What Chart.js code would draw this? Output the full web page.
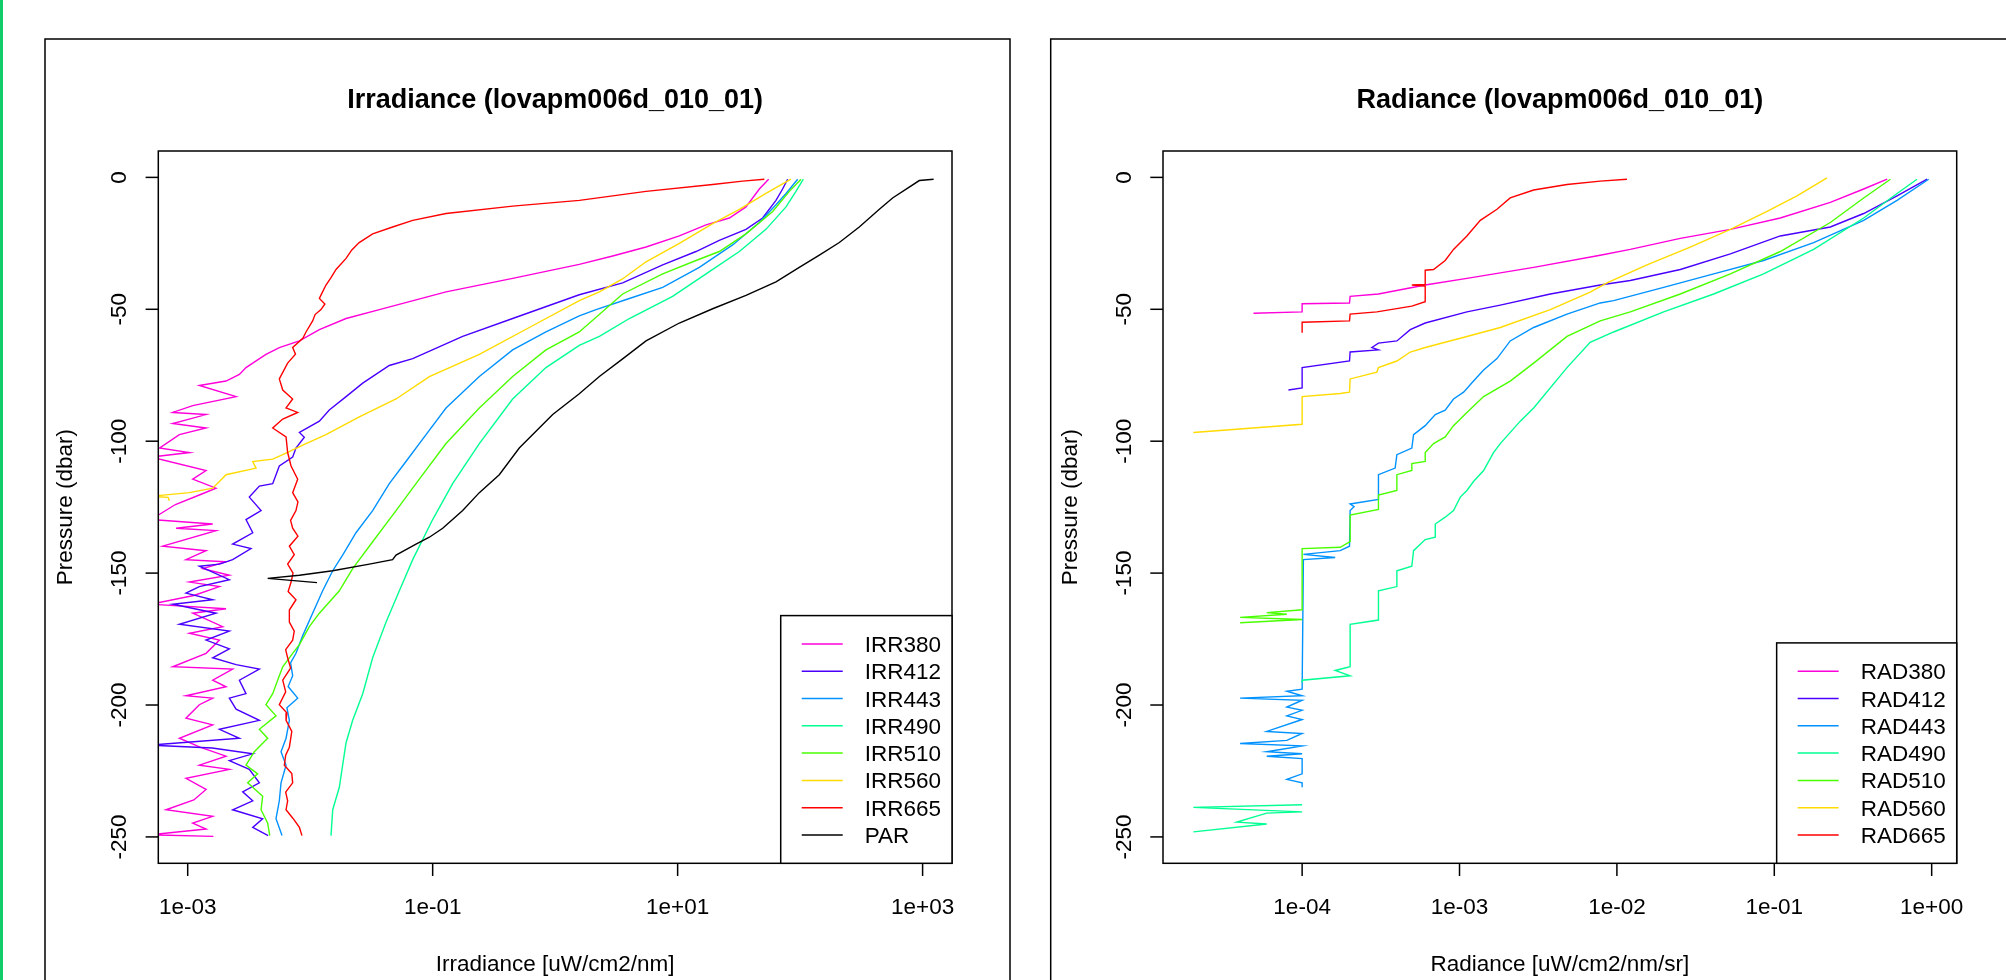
<!DOCTYPE html>
<html>
<head>
<meta charset="utf-8">
<script src="https://cdn.jsdelivr.net/npm/chart.js@4.4.1/dist/chart.umd.min.js"></script>
<style>
  html, body { margin: 0; padding: 0; background: #fff; width: 2006px; height: 980px; overflow: hidden; position: relative; }
  #bar { position: absolute; left: 0; top: 0; width: 3px; height: 980px; background: #12cc6a; }
  canvas { position: absolute; top: 0; }
  #irr { left: 0; }
  #rad { left: 1030px; }
</style>
</head>
<body>
<div id="bar"></div>
<canvas id="irr" width="1030" height="980"></canvas>
<canvas id="rad" width="976" height="980"></canvas>
<script>
// axis ticks
const irrTicks = [1e-3, 1e-1, 1e1, 1e3];
const irrTickLabels = ['1e-03', '1e-01', '1e+01', '1e+03'];
const radTicks = [1e-4, 1e-3, 1e-2, 1e-1, 1];
const radTickLabels = ['1e-04', '1e-03', '1e-02', '1e-01', '1e+00'];
const pressureTicks = [0, -50, -100, -150, -200, -250];

const irrLabels = ['IRR380', 'IRR412', 'IRR443', 'IRR490', 'IRR510', 'IRR560', 'IRR665', 'PAR'];
const radLabels = ['RAD380', 'RAD412', 'RAD443', 'RAD490', 'RAD510', 'RAD560', 'RAD665'];
const chanColors = ['#FF00DB', '#4900FF', '#0092FF', '#00FF92', '#49FF00', '#FFDB00', '#FF0000', '#000000'];

// profiles: [pressure (dbar), log10 of value]
const irr380 = [[-0.7,1.743],[-4.4,1.667],[-11.2,1.558],[-15.4,1.422],[-18,1.232],[-22.2,1.014],[-26.4,0.742],[-29.8,0.47],[-33,0.197],[-38.3,-0.347],[-43.4,-0.891],[-50.1,-1.435],[-53.5,-1.707],[-57.7,-1.925],[-62,-2.088],[-64.5,-2.252],[-67.1,-2.361],[-70.4,-2.469],[-72.1,-2.524],[-74.7,-2.578],[-77.2,-2.687],[-78.9,-2.905],[-83.1,-2.605],[-86.5,-2.959],[-89.1,-3.122],[-89.9,-2.85],[-93.3,-3.122],[-95,-2.85],[-97.5,-3.068],[-102.6,-3.231],[-104.3,-2.986],[-106,-3.3],[-111.1,-2.85],[-114.4,-2.959],[-117.8,-2.769],[-120.4,-2.905],[-124,-3.1],[-129.7,-3.3],[-131.4,-2.796],[-133,-3.095],[-133.9,-2.769],[-139.8,-3.204],[-141.5,-2.85],[-144.9,-3.014],[-145.7,-2.687],[-148.3,-2.877],[-150.8,-2.66],[-153.4,-2.986],[-155.1,-2.741],[-158.5,-2.95],[-161.8,-3.3],[-163.5,-2.687],[-165.2,-2.959],[-170.3,-2.714],[-172.8,-2.986],[-175.4,-2.741],[-180.4,-2.85],[-185.5,-3.122],[-186.4,-2.633],[-190.6,-2.796],[-193.1,-2.687],[-196.5,-3.014],[-197.4,-2.796],[-199.9,-2.905],[-205,-3.014],[-207.5,-2.796],[-212.6,-3.068],[-216,-2.9],[-219.4,-2.687],[-222.8,-2.905],[-224.4,-2.66],[-227.8,-3.014],[-232,-2.85],[-236,-2.95],[-239.7,-3.177],[-242.2,-2.796],[-244.8,-2.959],[-247,-2.85],[-249.2,-3.3],[-249.8,-2.79]];
const irr412 = [[-0.7,1.898],[-4.4,1.857],[-8.7,1.803],[-15.4,1.694],[-19.7,1.558],[-23.9,1.34],[-28.1,1.15],[-33.2,0.878],[-40,0.551],[-44.5,0.197],[-53.5,-0.347],[-60.3,-0.755],[-68.7,-1.163],[-71.3,-1.354],[-78,-1.571],[-83.1,-1.707],[-88.2,-1.844],[-92.4,-1.925],[-96.7,-2.088],[-98.5,-2.048],[-102.6,-2.116],[-106,-2.143],[-109.4,-2.252],[-116.1,-2.306],[-117,-2.415],[-121.2,-2.497],[-126.3,-2.401],[-129.7,-2.524],[-134.7,-2.469],[-139,-2.633],[-140.7,-2.483],[-144.9,-2.633],[-146.6,-2.741],[-147.4,-2.905],[-152.5,-2.66],[-155.1,-2.905],[-157.6,-3.014],[-160.1,-2.796],[-161.8,-3.122],[-165.2,-2.769],[-169.4,-3.068],[-172,-2.66],[-175.4,-2.85],[-178.7,-2.66],[-182.1,-2.796],[-184.7,-2.605],[-186.4,-2.415],[-190.6,-2.578],[-195.7,-2.524],[-197.4,-2.66],[-201.6,-2.605],[-205.8,-2.415],[-209.2,-2.741],[-212.6,-2.578],[-215.2,-3.3],[-216.3,-2.8],[-218.5,-2.469],[-221.1,-2.66],[-224.4,-2.497],[-229.5,-2.415],[-232.9,-2.551],[-236.3,-2.469],[-239.7,-2.633],[-243.1,-2.388],[-246.4,-2.469],[-249.5,-2.343]];
const irr443 = [[-0.7,1.98],[-6.1,1.885],[-10.4,1.803],[-17.1,1.667],[-25.6,1.449],[-34.1,1.177],[-41.7,0.878],[-45.9,0.606],[-50.1,0.334],[-52.5,0.197],[-58.6,-0.075],[-65.4,-0.347],[-75.5,-0.619],[-87.4,-0.891],[-97.5,-1.054],[-107.7,-1.218],[-116.1,-1.354],[-126.3,-1.49],[-134.7,-1.626],[-143.2,-1.735],[-149.1,-1.816],[-156.7,-1.898],[-165.2,-1.98],[-173.7,-2.061],[-180.4,-2.116],[-184,-2.16],[-188.9,-2.143],[-193,-2.18],[-197.4,-2.102],[-201,-2.19],[-205.8,-2.17],[-212.6,-2.197],[-217.7,-2.238],[-222.8,-2.197],[-229.5,-2.238],[-236.3,-2.252],[-243.1,-2.279],[-249.5,-2.23]];
const irr490 = [[-0.7,2.026],[-5.3,1.966],[-11.2,1.885],[-19.7,1.721],[-28.1,1.504],[-36.6,1.232],[-45.1,0.959],[-53.5,0.606],[-60.3,0.361],[-63.7,0.197],[-72.1,-0.075],[-84,-0.347],[-100.9,-0.619],[-116.1,-0.837],[-129.7,-1.0],[-144.9,-1.163],[-156.7,-1.272],[-168.6,-1.381],[-182.1,-1.49],[-195.7,-1.571],[-205.8,-1.653],[-214.3,-1.707],[-222.8,-1.735],[-231.2,-1.762],[-239.7,-1.816],[-249.5,-1.83]];
const irr510 = [[-0.7,2.007],[-5.3,1.912],[-12.9,1.776],[-21.4,1.558],[-28.1,1.34],[-31.5,1.15],[-36.6,0.878],[-44.2,0.551],[-58.6,0.197],[-65.4,-0.075],[-75.5,-0.347],[-87.4,-0.619],[-100.9,-0.891],[-114.4,-1.109],[-126.3,-1.299],[-138.1,-1.49],[-148.3,-1.653],[-156.7,-1.762],[-165.2,-1.925],[-170.3,-2.007],[-177.1,-2.088],[-180.4,-2.143],[-185.5,-2.224],[-188.9,-2.252],[-195.7,-2.306],[-199.9,-2.361],[-204.1,-2.279],[-209.2,-2.415],[-212.6,-2.347],[-217.7,-2.456],[-222.8,-2.524],[-226.1,-2.429],[-229.5,-2.51],[-234.6,-2.388],[-239.7,-2.401],[-244.8,-2.347],[-249.5,-2.33]];
const irr560 = [[-0.7,1.925],[-6.1,1.721],[-12.1,1.504],[-17.5,1.286],[-25,1.014],[-32,0.742],[-38.5,0.55],[-43.4,0.361],[-46.7,0.197],[-56.9,-0.211],[-67.1,-0.619],[-75.5,-1.027],[-84,-1.299],[-90.8,-1.599],[-97.5,-1.871],[-100.9,-2.034],[-105.1,-2.224],[-106.8,-2.306],[-107.7,-2.469],[-110.2,-2.442],[-112.7,-2.687],[-115.3,-2.741],[-117.8,-2.796],[-119.5,-2.986],[-120.9,-3.3],[-121.3,-3.16],[-122.6,-3.15]];
const irr665 = [[-0.7,1.708],[-1.4,1.531],[-2.7,1.286],[-5.3,0.742],[-8.7,0.198],[-10.9,-0.347],[-13.7,-0.891],[-16.3,-1.163],[-18.8,-1.327],[-21.4,-1.49],[-24.7,-1.6],[-27.5,-1.66],[-30.7,-1.707],[-34.9,-1.789],[-38,-1.83],[-40.8,-1.871],[-43.5,-1.9],[-45.9,-1.925],[-48,-1.88],[-50.1,-1.912],[-52,-1.96],[-54.4,-1.98],[-58.6,-2.034],[-61,-2.06],[-64.5,-2.143],[-67,-2.12],[-70.4,-2.184],[-76.4,-2.252],[-80.6,-2.224],[-84,-2.143],[-87.4,-2.197],[-89.1,-2.102],[-91.6,-2.224],[-95,-2.306],[-98.4,-2.197],[-104.3,-2.184],[-109.4,-2.156],[-114.4,-2.102],[-119.5,-2.143],[-123,-2.1],[-126.3,-2.116],[-130,-2.16],[-133,-2.143],[-136,-2.1],[-139.8,-2.17],[-143,-2.13],[-146.6,-2.184],[-150,-2.14],[-153.4,-2.156],[-157,-2.18],[-160.1,-2.116],[-164,-2.17],[-168.6,-2.17],[-172,-2.13],[-175.4,-2.143],[-179,-2.2],[-182.1,-2.184],[-186,-2.16],[-190.6,-2.224],[-195,-2.2],[-199.9,-2.252],[-203,-2.19],[-205.8,-2.197],[-210,-2.15],[-216,-2.17],[-219,-2.2],[-222.8,-2.211],[-226,-2.15],[-229.5,-2.143],[-233,-2.2],[-236.3,-2.184],[-239.7,-2.197],[-243,-2.14],[-246.4,-2.088],[-249.5,-2.067]];
const par = [[-0.7,3.09],[-1.2,2.973],[-7.8,2.755],[-12.1,2.647],[-18.8,2.483],[-24.7,2.32],[-29.5,2.157],[-34.1,1.993],[-39.6,1.803],[-44.7,1.558],[-49.8,1.286],[-55.2,1.014],[-62,0.742],[-68.8,0.551],[-75.5,0.361],[-82,0.197],[-89.9,-0.02],[-102.6,-0.293],[-112.7,-0.456],[-119.5,-0.619],[-126.3,-0.755],[-133,-0.918],[-136.4,-1.027],[-139,-1.136],[-143.2,-1.299],[-144.9,-1.327],[-146.6,-1.517],[-149.1,-1.816],[-150.8,-2.088],[-152,-2.347],[-153.6,-1.944]];

const rad380 = [[-0.7,-0.283],[-4.4,-0.432],[-9.5,-0.644],[-15.4,-0.962],[-19.7,-1.279],[-23.1,-1.597],[-27.3,-1.915],[-29.5,-2.106],[-34.1,-2.529],[-38.3,-2.953],[-40.8,-3.218],[-44.2,-3.515],[-45.1,-3.695],[-47.6,-3.699],[-47.9,-4.0],[-51,-4.0],[-51.5,-4.309]];
const rad412 = [[-0.7,-0.029],[-7,-0.22],[-13.7,-0.432],[-18.8,-0.644],[-22.2,-0.962],[-29,-1.279],[-34.9,-1.597],[-39.1,-1.915],[-40.8,-2.106],[-44.2,-2.423],[-48.4,-2.741],[-51,-2.953],[-55.2,-3.218],[-57.7,-3.313],[-62,-3.398],[-62.8,-3.515],[-64.5,-3.557],[-65.4,-3.515],[-66.2,-3.695],[-69.6,-3.699],[-72.1,-4.0],[-79.8,-4.0],[-80.6,-4.087]];
const rad443 = [[-0.7,-0.019],[-8.7,-0.22],[-16.3,-0.432],[-24.7,-0.75],[-31.5,-1.068],[-36.6,-1.385],[-41.7,-1.703],[-46.7,-2.021],[-47.6,-2.106],[-51.8,-2.317],[-56.9,-2.529],[-62,-2.678],[-68.7,-2.762],[-73,-2.847],[-77.2,-2.911],[-81.4,-2.974],[-84,-3.038],[-88.2,-3.091],[-89.9,-3.154],[-94.1,-3.218],[-97.5,-3.292],[-102.6,-3.303],[-105.1,-3.398],[-110.2,-3.409],[-112.7,-3.515],[-122.1,-3.515],[-123.8,-3.695],[-124.8,-3.67],[-126.3,-3.695],[-139.8,-3.699],[-141.5,-3.758],[-142.9,-3.992],[-144.1,-3.79],[-144.9,-3.992],[-194,-4.0],[-194.8,-4.097],[-196.5,-4.0],[-197.4,-4.394],[-198.2,-4.0],[-200.8,-4.097],[-202,-4.0],[-204.1,-4.097],[-205.5,-4.0],[-210,-4.225],[-210.8,-4.0],[-213.4,-4.097],[-214.6,-4.394],[-215.5,-4.0],[-217.7,-4.225],[-218.5,-4.0],[-219.4,-4.225],[-220.3,-4.0],[-226.1,-4.0],[-228.2,-4.097],[-229.5,-4.0],[-231.2,-4.0]];
const rad490 = [[-0.7,-0.093],[-6.1,-0.22],[-15.4,-0.432],[-27.3,-0.75],[-36.6,-1.068],[-44.2,-1.385],[-51,-1.703],[-58.6,-2.021],[-62.5,-2.17],[-72.1,-2.317],[-87.4,-2.529],[-92.4,-2.614],[-100.9,-2.741],[-104.3,-2.784],[-111.1,-2.847],[-115.3,-2.911],[-118.7,-2.953],[-121.2,-2.995],[-126.3,-3.038],[-128.8,-3.091],[-131.4,-3.154],[-136.4,-3.154],[-137.3,-3.218],[-141.5,-3.292],[-147.4,-3.303],[-149.1,-3.398],[-155.1,-3.398],[-156.7,-3.515],[-167.8,-3.515],[-169.4,-3.695],[-185.5,-3.695],[-186.9,-3.79],[-188.9,-3.695],[-190.6,-4.0],[-191.5,-4.0],[-200,null],[-237.8,-4.0],[-238.8,-4.691],[-240.5,-4.0],[-241,-4.225],[-244.4,-4.415],[-245.1,-4.225],[-248.1,-4.691]];
const rad510 = [[-0.7,-0.262],[-7.8,-0.432],[-17.1,-0.644],[-28.1,-0.962],[-36.6,-1.279],[-44.2,-1.597],[-51,-1.915],[-54.4,-2.106],[-60.3,-2.317],[-70.4,-2.529],[-77.2,-2.678],[-83.1,-2.847],[-89.1,-2.953],[-94.1,-3.038],[-98.4,-3.091],[-100.9,-3.165],[-104.3,-3.218],[-107.7,-3.218],[-108.5,-3.303],[-111.1,-3.303],[-112.7,-3.398],[-118.7,-3.398],[-120.4,-3.515],[-125.9,-3.515],[-128,-3.695],[-138.1,-3.695],[-140.2,-3.758],[-140.7,-4.0],[-163.9,-4.0],[-165,-4.225],[-165.6,-4.097],[-166.8,-4.394],[-167.6,-4.0],[-168.8,-4.394]];
const rad560 = [[-0.2,-0.665],[-7,-0.856],[-12.9,-1.046],[-19.7,-1.279],[-26.4,-1.534],[-33.2,-1.809],[-40,-2.063],[-43.5,-2.17],[-50.1,-2.423],[-56.9,-2.741],[-60.3,-2.953],[-64.5,-3.218],[-66.2,-3.313],[-69.6,-3.398],[-72.1,-3.515],[-73.8,-3.525],[-76.4,-3.695],[-81.4,-3.699],[-81.9,-3.758],[-83.1,-4.0],[-93.6,-4.0],[-96.7,-4.691]];
const rad665 = [[-0.7,-1.936],[-1.4,-2.106],[-2.7,-2.317],[-4.8,-2.529],[-7.8,-2.678],[-12.1,-2.762],[-16.3,-2.868],[-22.2,-2.953],[-27.3,-3.038],[-31.5,-3.091],[-34.9,-3.165],[-35.2,-3.218],[-40.6,-3.218],[-40.8,-3.303],[-41.2,-3.218],[-47.1,-3.218],[-48.8,-3.303],[-51,-3.525],[-51.8,-3.695],[-54.4,-3.699],[-54.9,-4.0],[-58.9,-4.0]];

function toPoints(rows) {
  return rows.map(([p, v]) => v === null ? { x: NaN, y: null } : { x: Math.pow(10, v), y: p });
}

const rStyle = {
  id: 'rStyle',
  afterDraw(chart, args, o) {
    const ctx = chart.ctx, a = chart.chartArea;
    const xs = chart.scales.x, ys = chart.scales.y;
    const font = '22.5px "Liberation Sans", Arial, sans-serif';
    const cx = (a.left + a.right) / 2, cy = (a.top + a.bottom) / 2;
    ctx.save();
    ctx.strokeStyle = '#000';
    ctx.fillStyle = '#000';
    ctx.lineWidth = 1.5;
    ctx.strokeRect(o.frame[0], o.frame[1], o.frame[2], o.frame[3]);
    ctx.strokeRect(a.left, a.top, a.right - a.left, a.bottom - a.top);

    ctx.font = font;
    ctx.textAlign = 'center';
    ctx.textBaseline = 'alphabetic';
    o.xTicks.forEach((v, i) => {
      const px = xs.getPixelForValue(v);
      ctx.beginPath(); ctx.moveTo(px, a.bottom); ctx.lineTo(px, a.bottom + 12.7); ctx.stroke();
      ctx.fillText(o.xTickLabels[i], px, a.bottom + 51);
    });
    o.yTicks.forEach(v => {
      const py = ys.getPixelForValue(v);
      ctx.beginPath(); ctx.moveTo(a.left - 12.7, py); ctx.lineTo(a.left, py); ctx.stroke();
      ctx.save();
      ctx.translate(a.left - 32, py);
      ctx.rotate(-Math.PI / 2);
      ctx.fillText(String(v), 0, 0);
      ctx.restore();
    });

    // axis titles
    ctx.fillText(o.xTitle, cx, 971);
    ctx.save();
    ctx.translate(a.left - 86, cy);
    ctx.rotate(-Math.PI / 2);
    ctx.fillText(o.yTitle, 0, 0);
    ctx.restore();

    // main title
    ctx.font = 'bold 27px "Liberation Sans", Arial, sans-serif';
    ctx.fillText(o.title, cx, 108);

    // legend, bottom right
    ctx.font = font;
    const sets = chart.data.datasets;
    const tw = Math.max(...sets.map(d => ctx.measureText(d.label).width));
    const w = 84 + tw + 11;
    const h = (sets.length - 1) * 27.3 + 56.6;
    const lx = a.right - w, ly = a.bottom - h;
    ctx.fillStyle = '#fff';
    ctx.fillRect(lx, ly, w, h);
    ctx.strokeRect(lx, ly, w, h);
    ctx.textAlign = 'left';
    sets.forEach((d, i) => {
      const yy = ly + 28.3 + i * 27.3;
      ctx.strokeStyle = d.borderColor;
      ctx.lineWidth = 1.5;
      ctx.beginPath(); ctx.moveTo(lx + 21, yy); ctx.lineTo(lx + 62, yy); ctx.stroke();
      ctx.fillStyle = '#000';
      ctx.fillText(d.label, lx + 84, yy + 8);
    });
    ctx.restore();
  }
};

function drawPanel(id, labels, series, xMin, xMax, pad, opts) {
  const datasets = series.map((rows, i) => ({
    label: labels[i],
    data: toPoints(rows),
    showLine: true,
    borderColor: chanColors[i],
    backgroundColor: chanColors[i],
    borderWidth: 1.4,
    pointRadius: 0,
    tension: 0,
    order: -i
  }));
  return new Chart(document.getElementById(id), {
    type: 'scatter',
    data: { datasets },
    options: {
      responsive: false,
      animation: false,
      devicePixelRatio: 1,
      events: [],
      layout: { padding: pad },
      scales: {
        x: { type: 'logarithmic', min: xMin, max: xMax, bounds: 'data', display: false },
        y: { type: 'linear', min: -260, max: 10, display: false }
      },
      plugins: {
        legend: { display: false },
        tooltip: { enabled: false },
        rStyle: opts
      }
    },
    plugins: [rStyle]
  });
}

drawPanel('irr', irrLabels,
  [irr380, irr412, irr443, irr490, irr510, irr560, irr665, par],
  Math.pow(10, -3.24), Math.pow(10, 3.24),
  { left: 158.3, right: 78, top: 151, bottom: 116.7 },
  {
    frame: [45, 39, 965, 1000],
    xTicks: irrTicks, xTickLabels: irrTickLabels, yTicks: pressureTicks,
    title: 'Irradiance (lovapm006d_010_01)',
    xTitle: 'Irradiance [uW/cm2/nm]',
    yTitle: 'Pressure (dbar)'
  });

drawPanel('rad', radLabels,
  [rad380, rad412, rad443, rad490, rad510, rad560, rad665],
  Math.pow(10, -4.884), Math.pow(10, 0.159),
  { left: 133, right: 49.3, top: 151, bottom: 116.7 },
  {
    frame: [20.7, 39, 1000, 1000],
    xTicks: radTicks, xTickLabels: radTickLabels, yTicks: pressureTicks,
    title: 'Radiance (lovapm006d_010_01)',
    xTitle: 'Radiance [uW/cm2/nm/sr]',
    yTitle: 'Pressure (dbar)'
  });
</script>
</body>
</html>
